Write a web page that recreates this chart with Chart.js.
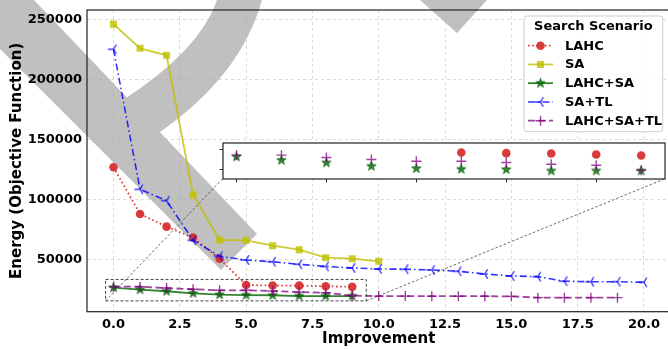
<!DOCTYPE html>
<html>
<head>
<meta charset="utf-8">
<script src="https://cdn.jsdelivr.net/npm/chart.js@4.4.0/dist/chart.umd.min.js"></script>
<style>
  html, body { margin: 0; padding: 0; overflow: hidden; background: #fff; }
  #wrap { position: relative; width: 668px; height: 349px; overflow: hidden; }
  #mainChart { position: absolute; left: 0; top: 0; }
  #insetChart { position: absolute; }
</style>
</head>
<body>
<div id="wrap">
  <canvas id="mainChart" width="674" height="349"></canvas>
  <canvas id="insetChart"></canvas>
</div>
<script>
// ---- data ----
const improvement = [0, 1, 2, 3, 4, 5, 6, 7, 8, 9, 10, 11, 12, 13, 14, 15, 16, 17, 18, 19, 20];
const seriesNames = ['LAHC', 'SA', 'LAHC+SA', 'SA+TL', 'LAHC+SA+TL'];
const lahc = [126700, 87750, 77200, 68000, 50500, 28500, 28150, 28000, 27500, 27000];
const sa = [246000, 225800, 220000, 103600, 66100, 65800, 61300, 58000, 51300, 50500, 48300];
const lahcSa = [26350, 24650, 23350, 21650, 20500, 20150, 20000, 19350, 19350, 19350];
const saTl = [225000, 108300, 98800, 65800, 52500, 49400, 47900, 45800, 44000, 42750, 41900,
              41700, 41100, 40000, 37750, 36100, 35500, 31700, 31300, 31300, 30800];
const lahcSaTl = [27150, 27150, 26000, 25000, 24150, 24150, 23500, 22650, 22150, 19650,
                  19300, 19300, 19200, 19200, 19200, 19100, 18000, 18000, 18000, 18000];

const xTicks = [0, 2.5, 5, 7.5, 10, 12.5, 15, 17.5, 20];
const yTicks = [50000, 100000, 150000, 200000, 250000];
const xRange = [-1, 21];
const yRange = [6300, 257750];

// zoomed region shown in the inset
const zoomX = [-0.3, 9.53];
const zoomY = [15300, 33200];
const insetXTicks = [0, 2, 4, 6, 8];
const insetYTicks = [20000, 30000];
// inset placement, as fractions of the main plot area [left, top, right, bottom]
const insetBox = [0.2326, 0.4398, 0.9906, 0.5592];

const FONT = '"DejaVu Sans", "Liberation Sans", sans-serif';

function starMarker(color, r) {
  const s = Math.ceil(r * 2 + 3);
  const c = document.createElement('canvas');
  c.width = c.height = s;
  const g = c.getContext('2d');
  g.beginPath();
  for (let i = 0; i < 10; i++) {
    const rad = i % 2 === 0 ? r : r * 0.42;
    const a = -Math.PI / 2 + i * Math.PI / 5;
    const px = s / 2 + rad * Math.cos(a), py = s / 2 + rad * Math.sin(a);
    i === 0 ? g.moveTo(px, py) : g.lineTo(px, py);
  }
  g.closePath();
  g.fillStyle = color;
  g.fill();
  g.strokeStyle = color;
  g.lineWidth = 0.8;
  g.stroke();
  return c;
}

function triLeftMarker(color, r) {
  const s = Math.ceil(r * 2 + 3);
  const c = document.createElement('canvas');
  c.width = c.height = s;
  const g = c.getContext('2d');
  const cx = s / 2, cy = s / 2;
  g.strokeStyle = color;
  g.lineWidth = 1.4;
  g.beginPath();
  g.moveTo(cx, cy); g.lineTo(cx - r, cy);
  g.moveTo(cx, cy); g.lineTo(cx + r * 0.5, cy - r * 0.866);
  g.moveTo(cx, cy); g.lineTo(cx + r * 0.5, cy + r * 0.866);
  g.stroke();
  return c;
}

const colors = {
  red: 'rgba(214,39,40,0.9)',
  yellow: 'rgba(191,191,0,0.8)',
  green: 'rgba(0,100,0,0.8)',
  blue: 'rgba(0,0,255,0.8)',
  purple: 'rgba(128,0,128,0.75)'
};

const starImg = starMarker(colors.green, 5);
const triImg = triLeftMarker(colors.blue, 5.5);

function pts(values) {
  return values.map((v, i) => ({ x: improvement[i], y: v }));
}

function makeDatasets(showLine) {
  return [
    { label: seriesNames[0], data: pts(lahc), borderColor: colors.red, backgroundColor: colors.red,
      borderDash: [1.6, 2.6], borderWidth: 1.8, pointStyle: 'circle', pointRadius: 4.3,
      pointBorderWidth: 0, order: 4 },
    { label: seriesNames[1], data: pts(sa), borderColor: colors.yellow, backgroundColor: colors.yellow,
      borderDash: [], borderWidth: 1.8, pointStyle: 'rect', pointRadius: 5,
      pointBorderWidth: 0, order: 3 },
    { label: seriesNames[2], data: pts(lahcSa), borderColor: colors.green, backgroundColor: colors.green,
      borderDash: [], borderWidth: 1.8, pointStyle: starImg, pointRadius: 5, order: 2 },
    { label: seriesNames[3], data: pts(saTl), borderColor: colors.blue, backgroundColor: colors.blue,
      borderDash: [7, 3, 1.5, 3], borderWidth: 1.6, pointStyle: triImg, pointRadius: 5.5, order: 1 },
    { label: seriesNames[4], data: pts(lahcSaTl), borderColor: colors.purple, backgroundColor: colors.purple,
      borderDash: [7, 3.5], borderWidth: 1.8, pointStyle: 'cross', pointRadius: 5,
      pointBorderWidth: 1.4, order: 0 }
  ].map(ds => Object.assign(ds, {
    showLine: showLine, fill: false, tension: 0,
    pointBorderColor: ds.borderColor, pointBackgroundColor: ds.backgroundColor,
    pointHoverRadius: ds.pointRadius
  }));
}

function drawMarker(ctx, ds, x, y) {
  const st = ds.pointStyle;
  ctx.save();
  ctx.setLineDash([]);
  if (st instanceof HTMLCanvasElement) {
    ctx.drawImage(st, x - st.width / 2, y - st.height / 2);
  } else if (st === 'circle') {
    ctx.fillStyle = ds.backgroundColor;
    ctx.beginPath();
    ctx.arc(x, y, ds.pointRadius, 0, Math.PI * 2);
    ctx.fill();
  } else if (st === 'rect') {
    const h = ds.pointRadius * Math.SQRT1_2;
    ctx.fillStyle = ds.backgroundColor;
    ctx.fillRect(x - h, y - h, 2 * h, 2 * h);
  } else if (st === 'cross') {
    ctx.strokeStyle = ds.borderColor;
    ctx.lineWidth = ds.pointBorderWidth;
    ctx.beginPath();
    ctx.moveTo(x - ds.pointRadius, y); ctx.lineTo(x + ds.pointRadius, y);
    ctx.moveTo(x, y - ds.pointRadius); ctx.lineTo(x, y + ds.pointRadius);
    ctx.stroke();
  }
  ctx.restore();
}

// grey watermark stroke lying behind the figure
const watermarkPlugin = {
  id: 'watermark',
  beforeDraw(chart) {
    const ctx = chart.ctx;
    ctx.save();
    ctx.fillStyle = '#c0c0c0';
    ctx.beginPath();
    ctx.moveTo(0, 0); ctx.lineTo(34, 0); ctx.lineTo(257, 234); ctx.lineTo(221, 270); ctx.lineTo(0, 49);
    ctx.closePath();
    ctx.fill();
    ctx.beginPath();
    ctx.moveTo(123, 100);
    ctx.quadraticCurveTo(200, 50, 217, 0);
    ctx.lineTo(262, 0);
    ctx.quadraticCurveTo(240.5, 77, 157, 134);
    ctx.lineTo(110, 110);
    ctx.closePath();
    ctx.fill();
    ctx.beginPath();
    ctx.moveTo(420, 0); ctx.lineTo(457, 33); ctx.lineTo(487, 0);
    ctx.closePath();
    ctx.fill();
    ctx.restore();
  }
};

const framePlugin = {
  id: 'frame',
  afterDraw(chart) {
    const ctx = chart.ctx, ca = chart.chartArea;
    const xs = chart.scales.x, ys = chart.scales.y;
    ctx.save();
    // spines
    ctx.strokeStyle = '#222';
    ctx.lineWidth = 1.2;
    ctx.strokeRect(ca.left, ca.top, ca.right - ca.left, ca.bottom - ca.top);

    // zoom rectangle and connectors
    const rx0 = xs.getPixelForValue(zoomX[0]), rx1 = xs.getPixelForValue(zoomX[1]);
    const ry0 = ys.getPixelForValue(zoomY[1]), ry1 = ys.getPixelForValue(zoomY[0]);
    ctx.strokeStyle = '#444';
    ctx.lineWidth = 1;
    ctx.setLineDash([3, 2]);
    ctx.strokeRect(rx0, ry0, rx1 - rx0, ry1 - ry0);
    const w = ca.right - ca.left, h = ca.bottom - ca.top;
    const ix0 = ca.left + insetBox[0] * w, ix1 = ca.left + insetBox[2] * w;
    const iy1 = ca.top + insetBox[3] * h;
    ctx.lineWidth = 0.8;
    ctx.setLineDash([2.5, 2]);
    ctx.beginPath();
    ctx.moveTo(rx0, ry1); ctx.lineTo(ix0, iy1);
    ctx.moveTo(rx1, ry1); ctx.lineTo(ix1, iy1);
    ctx.stroke();
    ctx.setLineDash([]);

    // legend
    const lw = 138.7, lh = 115.7;
    const lx = ca.right - 7.8 - lw, ly = ca.top + 6;
    ctx.fillStyle = 'rgba(255,255,255,0.85)';
    ctx.strokeStyle = '#cccccc';
    ctx.lineWidth = 1;
    ctx.beginPath();
    ctx.roundRect(lx, ly, lw, lh, 3);
    ctx.fill();
    ctx.stroke();
    ctx.fillStyle = '#000';
    ctx.textBaseline = 'middle';
    ctx.textAlign = 'center';
    ctx.font = 'bold 13px ' + FONT;
    ctx.fillText('Search Scenario', lx + lw / 2, ly + 11);
    ctx.textAlign = 'left';
    chart.data.datasets.forEach((ds, i) => {
      const yy = ly + 29.7 + i * 18.75;
      ctx.save();
      ctx.strokeStyle = ds.borderColor;
      ctx.lineWidth = ds.borderWidth;
      ctx.setLineDash(ds.borderDash);
      ctx.beginPath();
      ctx.moveTo(lx + 4, yy); ctx.lineTo(lx + 29, yy);
      ctx.stroke();
      ctx.restore();
      drawMarker(ctx, ds, lx + 16.5, yy);
      ctx.fillStyle = '#000';
      ctx.fillText(ds.label, lx + 41, yy + 0.5);
    });
    ctx.restore();
  }
};

const tickFont = { family: FONT, size: 13, weight: 'bold' };
const titleFont = { family: FONT, size: 15, weight: 'bold' };
const gridStyle = { color: 'rgba(170,170,170,0.55)', lineWidth: 0.8, drawTicks: false };

// keep Chart.js from adding label overhang to the plot margins
function noOverhang(s) {
  s.paddingTop = 0; s.paddingBottom = 0; s.paddingLeft = 0; s.paddingRight = 0;
}

const mainChart = new Chart(document.getElementById('mainChart'), {
  type: 'scatter',
  data: { datasets: makeDatasets(true) },
  options: {
    responsive: false,
    maintainAspectRatio: false,
    animation: false,
    layout: { autoPadding: false, padding: { top: 10, right: 3.5, left: 0, bottom: 0 } },
    plugins: { legend: { display: false }, tooltip: { enabled: false } },
    scales: {
      x: {
        type: 'linear', min: xRange[0], max: xRange[1],
        afterBuildTicks: s => { s.ticks = xTicks.map(v => ({ value: v })); },
        afterFit: s => { s.height = 37.3; noOverhang(s); },
        ticks: { font: tickFont, color: '#000', padding: 5, maxRotation: 0, autoSkip: false,
                 callback: v => Number(v).toFixed(1) },
        grid: gridStyle,
        border: { display: false, dash: [3, 3] },
        title: { display: true, text: 'Improvement', font: titleFont, color: '#000',
                 padding: { top: 0, bottom: 1 } }
      },
      y: {
        type: 'linear', min: yRange[0], max: yRange[1],
        afterBuildTicks: s => { s.ticks = yTicks.map(v => ({ value: v })); },
        afterFit: s => { s.width = 87; noOverhang(s); },
        ticks: { font: tickFont, color: '#000', padding: 5, callback: v => String(v) },
        grid: gridStyle,
        border: { display: false, dash: [3, 3] },
        title: { display: true, text: 'Energy (Objective Function)', font: titleFont, color: '#000',
                 padding: { top: 8, bottom: 0 } }
      }
    }
  },
  plugins: [watermarkPlugin, framePlugin]
});

// ---- inset: markers only, zoomed on the low-energy runs ----
const ca = mainChart.chartArea;
const caW = ca.right - ca.left, caH = ca.bottom - ca.top;
const insetCanvas = document.getElementById('insetChart');
const tickRoom = 4;
const iLeft = ca.left + insetBox[0] * caW, iTop = ca.top + insetBox[1] * caH;
const iRight = ca.left + insetBox[2] * caW, iBottom = ca.top + insetBox[3] * caH;
const insetW = Math.round(iRight - iLeft + tickRoom + 1);
const insetH = Math.round(iBottom - iTop + tickRoom + 1);
insetCanvas.width = insetW;
insetCanvas.height = insetH;
insetCanvas.style.width = insetW + 'px';
insetCanvas.style.height = insetH + 'px';

const insetFrame = {
  id: 'insetFrame',
  beforeDraw(chart) {
    const a = chart.chartArea;
    chart.ctx.save();
    chart.ctx.fillStyle = '#fff';
    chart.ctx.fillRect(a.left, a.top, a.right - a.left, a.bottom - a.top);
    chart.ctx.restore();
  },
  afterDraw(chart) {
    const a = chart.chartArea;
    chart.ctx.save();
    chart.ctx.strokeStyle = '#222';
    chart.ctx.lineWidth = 1.2;
    chart.ctx.strokeRect(a.left, a.top, a.right - a.left, a.bottom - a.top);
    chart.ctx.restore();
  }
};

const insetTickGrid = { drawOnChartArea: false, drawTicks: true, tickLength: 3.5, color: '#333', lineWidth: 1 };

const insetChart = new Chart(insetCanvas, {
  type: 'scatter',
  data: { datasets: makeDatasets(false) },
  options: {
    responsive: false,
    maintainAspectRatio: false,
    animation: false,
    layout: { autoPadding: false, padding: { top: 1, right: 1, left: 0, bottom: 0 } },
    plugins: { legend: { display: false }, tooltip: { enabled: false } },
    scales: {
      x: {
        type: 'linear', min: zoomX[0], max: zoomX[1],
        afterBuildTicks: s => { s.ticks = insetXTicks.map(v => ({ value: v })); },
        afterFit: s => { s.height = tickRoom; noOverhang(s); },
        ticks: { display: false },
        grid: insetTickGrid,
        border: { display: false }
      },
      y: {
        type: 'linear', min: zoomY[0], max: zoomY[1],
        afterBuildTicks: s => { s.ticks = insetYTicks.map(v => ({ value: v })); },
        afterFit: s => { s.width = tickRoom; noOverhang(s); },
        ticks: { display: false },
        grid: insetTickGrid,
        border: { display: false }
      }
    }
  },
  plugins: [insetFrame]
});

// place the inset so its plot area lands on its box in the main figure
const ib = insetChart.chartArea;
insetCanvas.style.left = (iLeft - ib.left) + 'px';
insetCanvas.style.top = (iTop - ib.top) + 'px';
</script>
</body>
</html>
